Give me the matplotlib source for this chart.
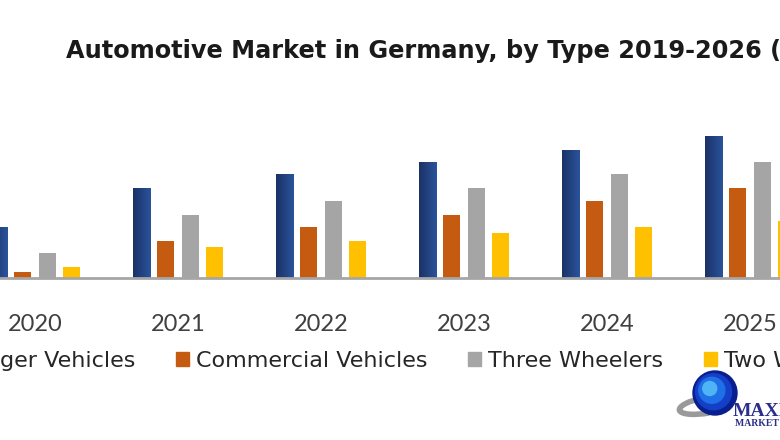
import numpy as np
import matplotlib
matplotlib.use('Agg')
import matplotlib.pyplot as plt
from matplotlib.patches import Circle, Arc, Patch

plt.rcParams['font.family'] = ['Lato', 'DejaVu Sans']

years = ['2020', '2021', '2022', '2023', '2024', '2025']
passenger = [5.1, 9.0, 10.4, 11.6, 12.8, 14.2]
commercial = [0.6, 3.7, 5.1, 6.3, 7.7, 9.0]
three_wheelers = [2.5, 6.3, 7.7, 9.0, 10.4, 11.6]
two_wheelers = [1.1, 3.1, 3.7, 4.5, 5.1, 5.7]

series = [
    ('Passenger Vehicles', passenger, '#264b8f'),
    ('Commercial Vehicles', commercial, '#c55a11'),
    ('Three Wheelers', three_wheelers, '#a5a5a5'),
    ('Two Wheelers', two_wheelers, '#ffc000'),
]

W, H = 780, 440
fig = plt.figure(figsize=(W / 100, H / 100), dpi=100)
fig.patch.set_facecolor('white')

# plot area: baseline at y=278 px, crop starts inside the 2020 group
ax = fig.add_axes([0, 1 - 278 / H, 1, 180 / H])
x = np.arange(len(years))
pitch = 0.172
width = 0.12
offsets = (np.arange(4) - 1.5) * pitch

for (name, vals, col), off in zip(series, offsets):
    bars = ax.bar(x + off, vals, width, color=col, label=name, zorder=2)
    if name == 'Passenger Vehicles':
        # dark-to-light horizontal shading like the original
        grad = np.linspace(0, 1, 64).reshape(1, -1)
        cmap = matplotlib.colors.LinearSegmentedColormap.from_list('b', ['#1b3266', '#2a539c'])
        for b in bars:
            im = ax.imshow(grad, cmap=cmap, aspect='auto', zorder=3,
                           extent=[b.get_x(), b.get_x() + b.get_width(), 0, b.get_height()])
            im.set_clip_path(b)

ax.set_xlim(-35 / 143, (W - 35) / 143)
ax.set_ylim(0, 18)
ax.axhline(0, color='#a6a6a6', lw=2, zorder=4, clip_on=False)
for s in ax.spines.values():
    s.set_visible(False)
ax.set_yticks([])
ax.set_xticks(x)
ax.set_xticklabels(years, fontsize=17, color='#404040')
ax.tick_params(axis='x', length=0, pad=26)

fig.text(66 / W, 1 - 51 / H, 'Automotive Market in Germany, by Type 2019-2026 (USD Bn)',
         fontsize=17.3, fontweight='bold', color='#1a1a1a', ha='left', va='center',
         family='DejaVu Sans')

handles = [Patch(color=c, label=n) for n, _, c in series]
fig.legend(handles=handles, loc='center', bbox_to_anchor=(0.5, 1 - 361 / H), ncol=4,
           frameon=False, handlelength=0.6, handleheight=0.62,
           handletextpad=0.33, columnspacing=1.8, labelcolor='#262626',
           prop={'family': 'DejaVu Sans', 'size': 16})

# watermark logo in the corner
ov = fig.add_axes([0, 0, 1, 1], zorder=5)
ov.set_xlim(0, W)
ov.set_ylim(H, 0)
ov.axis('off')
ov.add_patch(Arc((708, 405), 58, 16, angle=-10, theta1=90, theta2=250, color='#9a9a9a', lw=4))
for r, c in [(22, '#0a1f8f'), (18, '#1440c8'), (13, '#1f6fe6'), (7, '#4fb4f5')]:
    ov.add_patch(Circle((715 - (22 - r) * 0.35, 393 - (22 - r) * 0.3), r, color=c))
ov.text(733, 411, 'MAXIMIZE', fontsize=14, fontweight='bold', color='#2b2f8c',
        family=['Liberation Serif', 'DejaVu Serif'], ha='left', va='center')
ov.text(735, 424, 'MARKET RESEARCH', fontsize=7, fontweight='bold', color='#2b2f8c',
        family=['Liberation Serif', 'DejaVu Serif'], ha='left', va='center')

fig.savefig('out.png', dpi=100, facecolor='white')
